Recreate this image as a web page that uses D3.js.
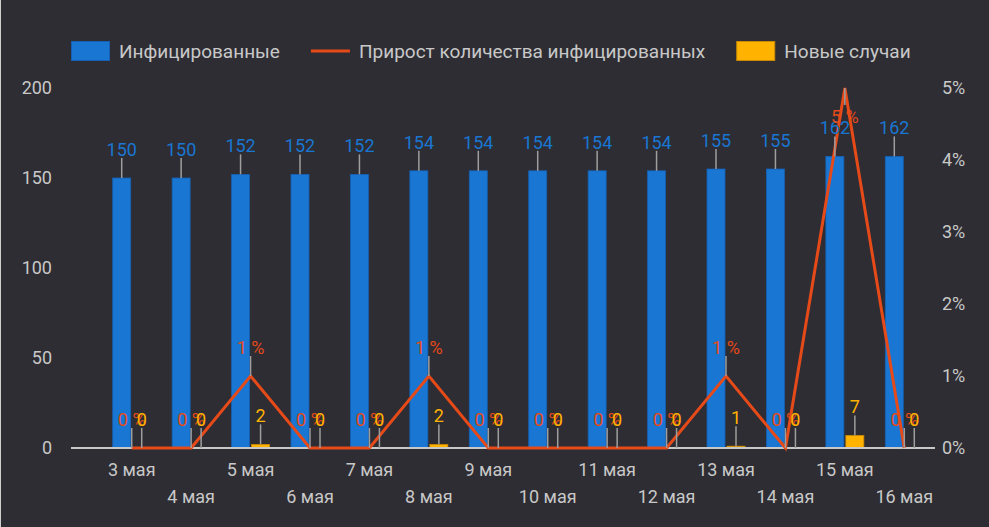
<!DOCTYPE html>
<html><head><meta charset="utf-8">
<script src="https://cdn.jsdelivr.net/npm/d3@7"></script>
<style>
html,body{margin:0;padding:0;background:#2e2d33;}
svg{display:block;font-family:Roboto,"Noto Sans",sans-serif;}
</style></head>
<body>
<svg id="c" width="989" height="527"></svg>
<script>
const categories = ["3 мая","4 мая","5 мая","6 мая","7 мая","8 мая","9 мая","10 мая","11 мая","12 мая","13 мая","14 мая","15 мая","16 мая"];
const infected = [150,150,152,152,152,154,154,154,154,154,155,155,162,162];
const growthPct = [0,0,1,0,0,1,0,0,0,0,1,0,5,0];
const newCases = [0,0,2,0,0,2,0,0,0,0,1,0,7,0];
const leftTicks = [0,50,100,150,200];
const rightTicks = [0,1,2,3,4,5];
const legendLabels = ["Инфицированные","Прирост количества инфицированных","Новые случаи"];

(function(){
const W=989,H=527;
const C={bg:"#2e2d33",blue:"#1976d2",blueS:"#1560b5",orange:"#e64a19",yellow:"#ffb300",yellowS:"#c98a00",text:"#c8c8c8",axis:"#c8c8c8",leader:"#9e9e9e"};
const svg=d3.select("#c");
svg.append("rect").attr("width",W).attr("height",H).attr("fill",C.bg);
svg.append("line").attr("x1",0.5).attr("x2",0.5).attr("y1",0).attr("y2",H).attr("stroke","#cfcfcf").attr("stroke-width",1);

const yTop=88,yBot=448,axL=71,axR=935;
const x=d3.scaleBand().domain(categories).range([102,934]).padding(0);
const step=x.step();
const x1=d3.scaleBand().domain(["inf","new"]).range([step/2-19,step/2+19]).paddingInner(0.1);
const yL=d3.scaleLinear().domain([0,200]).range([yBot,yTop]);
const yR=d3.scaleLinear().domain([0,5]).range([yBot,yTop]);
const cx=c=>x(c)+step/2;
const fs=18;

const gL=svg.append("g").attr("transform","translate(52,0)")
 .call(d3.axisLeft(yL).tickValues(leftTicks).tickSize(0).tickPadding(0));
gL.select(".domain").remove();
gL.selectAll("text").attr("fill",C.text).style("font-size",fs+"px").style("font-family","Roboto");
const gR=svg.append("g").attr("transform","translate(942,0)")
 .call(d3.axisRight(yR).tickValues(rightTicks).tickSize(0).tickPadding(0).tickFormat(d=>d+"%"));
gR.select(".domain").remove();
gR.selectAll("text").attr("fill",C.text).style("font-size",fs+"px").style("font-family","Roboto");

const gB=svg.append("g");
gB.selectAll("rect.inf").data(categories).join("rect").attr("class","inf")
 .attr("x",(c)=>x(c)+x1("inf")).attr("width",x1.bandwidth())
 .attr("y",(c,i)=>yL(infected[i])).attr("height",(c,i)=>yBot-yL(infected[i]))
 .attr("fill",C.blue).attr("stroke",C.blueS).attr("stroke-width",0.8);
gB.selectAll("rect.new").data(categories).join("rect").attr("class","new")
 .attr("x",(c)=>x(c)+x1("new")).attr("width",x1.bandwidth())
 .attr("y",(c,i)=>yL(newCases[i])).attr("height",(c,i)=>yBot-yL(newCases[i]))
 .attr("fill",C.yellow).attr("stroke",C.yellowS).attr("stroke-width",0.8);

svg.append("line").attr("x1",axL).attr("x2",axR).attr("y1",yBot).attr("y2",yBot)
 .attr("stroke",C.axis).attr("stroke-width",2);

const gX=svg.append("g").attr("transform",`translate(0,${yBot})`)
 .call(d3.axisBottom(x).tickSize(0).tickPadding(0));
gX.select(".domain").remove();
gX.selectAll("text").attr("fill",C.text).style("font-size",fs+"px").style("font-family","Roboto")
 .attr("dy",null).attr("y",(d,i)=>i%2===0?28:55);

const line=d3.line().x((c)=>cx(c)).y((c,i)=>yR(growthPct[i]));
svg.append("path").datum(categories).attr("d",line).attr("fill","none")
 .attr("stroke",C.orange).attr("stroke-width",3).attr("stroke-linejoin","miter");

const gLab=svg.append("g").style("font-family","Roboto").style("font-size",fs+"px");
function label(px,py,txt,color,flip){
  const L=20;
  if(!flip){
    gLab.append("line").attr("x1",px).attr("x2",px).attr("y1",py).attr("y2",py-L).attr("stroke",C.leader).attr("stroke-width",1.5);
    gLab.append("text").attr("x",px).attr("y",py-L-2).attr("text-anchor","middle").attr("fill",color).text(txt);
  } else {
    gLab.append("line").attr("x1",px).attr("x2",px).attr("y1",py).attr("y2",py+17).attr("stroke",C.leader).attr("stroke-width",1.5);
    gLab.append("text").attr("x",px).attr("y",py+35).attr("text-anchor","middle").attr("fill",color).text(txt);
  }
}
categories.forEach((c,i)=>{
  label(x(c)+x1("inf")+x1.bandwidth()/2, yL(infected[i]), String(infected[i]), C.blue, false);
});
categories.forEach((c,i)=>{
  const py=yR(growthPct[i]);
  label(cx(c), py, growthPct[i]+" %", C.orange, py-40<yTop);
});
categories.forEach((c,i)=>{
  label(x(c)+x1("new")+x1.bandwidth()/2, yL(newCases[i]), String(newCases[i]), C.yellow, false);
});

const gLeg=svg.append("g").style("font-family","Roboto").style("font-size","19px");
let lx=71;
legendLabels.forEach((t,i)=>{
  if(i===1){
    gLeg.append("line").attr("x1",lx).attr("x2",lx+39).attr("y1",51).attr("y2",51).attr("stroke",C.orange).attr("stroke-width",3);
  } else {
    gLeg.append("rect").attr("x",lx+0.5).attr("y",41.5).attr("width",38).attr("height",19)
     .attr("fill",i===0?C.blue:C.yellow).attr("stroke",i===0?C.blueS:C.yellowS).attr("stroke-width",1);
  }
  const tx=gLeg.append("text").attr("x",lx+48).attr("y",58).attr("fill",C.text).text(t);
  lx=lx+48+tx.node().getComputedTextLength()+31;
});
})();
</script>
</body></html>
